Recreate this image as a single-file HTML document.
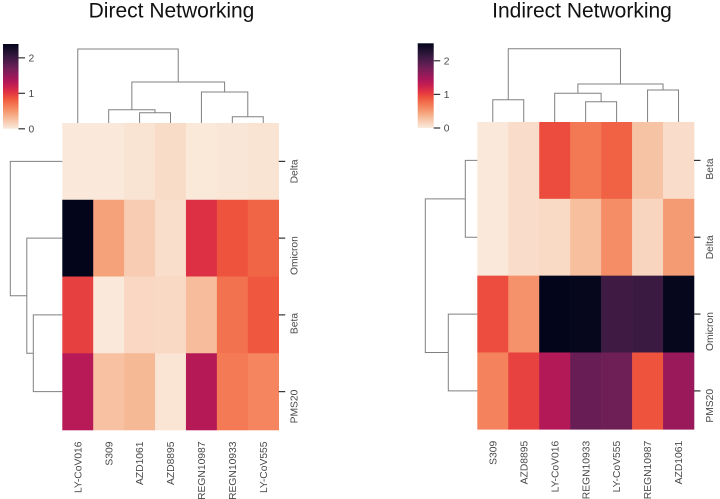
<!DOCTYPE html>
<html>
<head>
<meta charset="utf-8">
<title>Direct and Indirect Networking heatmaps</title>
<style>
html,body{margin:0;padding:0;background:#fff;width:720px;height:499px;overflow:hidden}
svg{display:block;font-family:"Liberation Sans",sans-serif;filter:blur(0.35px)}
.title{font-size:21px;fill:#111;text-anchor:middle}
</style>
</head>
<body>
<svg id="chart" xmlns="http://www.w3.org/2000/svg" width="720" height="499" viewBox="0 0 720 499">
  <defs id="defs"></defs>
  <text class="title" x="171.5" y="17.5">Direct Networking</text>
  <text class="title" x="582" y="17.5">Indirect Networking</text>
</svg>
<script>
// ---- Direct Networking data (display order) ----
const directCols = ['LY-CoV016','S309','AZD1061','AZD8895','REGN10987','REGN10933','LY-CoV555'];
const directRows = ['Delta','Omicron','Beta','PMS20'];
const directDelta = [0.01,0.015,0.045,0.09,0.02,0.03,0.05];
const directOmicron = [2.39,0.44,0.19,0.08,1.05,0.86,0.77];
const directBeta = [0.96,0.01,0.12,0.11,0.29,0.71,0.84];
const directPMS20 = [1.30,0.26,0.31,0.04,1.31,0.66,0.60];
const directVmax = 2.39;
const directTicks = [0,1,2];
// merges: [childA, childB, height]; ids >= leaf count refer to earlier merges
const directColLinks = [[5,6,6.3],[2,3,10.3],[1,8,13.3],[4,7,31],[9,10,41],[0,11,74]];
const directRowLinks = [[2,3,29],[1,4,35.5],[0,5,52]];

// ---- Indirect Networking data (display order) ----
const indirectCols = ['S309','AZD8895','LY-CoV016','REGN10933','LY-CoV555','REGN10987','AZD1061'];
const indirectRows = ['Beta','Delta','Omicron','PMS20'];
const indirectBeta = [0.015,0.09,0.95,0.70,0.83,0.26,0.09];
const indirectDelta = [0.015,0.09,0.11,0.29,0.58,0.14,0.50];
const indirectOmicron = [0.94,0.55,2.52,2.50,2.10,2.13,2.50];
const indirectPMS20 = [0.64,1.00,1.40,1.85,1.82,0.91,1.55];
const indirectVmax = 2.52;
const indirectTicks = [0,1,2];
const indirectColLinks = [[3,4,20.3],[0,1,22.3],[2,7,28.7],[5,6,32],[9,10,38],[8,11,73.3]];
const indirectRowLinks = [[0,1,12],[2,3,29],[4,5,52]];

const svg = document.getElementById('chart');
const defs = document.getElementById('defs');
const NS = 'http://www.w3.org/2000/svg';

// rocket_r colormap anchor colours (light to dark)
const ramp = ['#faebdd','#f8cfb6','#f6b48f','#f5946c','#f37651','#ef553d','#e13342','#c82050','#ad1759','#8e1b5a','#701f57','#521c4c','#35193e','#1c0f2c','#03051a'];
function rgb(hex){return [1,3,5].map(i=>parseInt(hex.substr(i,2),16));}
function colorFor(t){
  t = Math.max(0,Math.min(1,t))*(ramp.length-1);
  const i = Math.min(Math.floor(t),ramp.length-2), f = t-i;
  const a = rgb(ramp[i]), b = rgb(ramp[i+1]);
  return 'rgb('+a.map((v,k)=>Math.round(v+(b[k]-v)*f)).join(',')+')';
}
function make(tag,attrs,parent){
  const el = document.createElementNS(NS,tag);
  for(const k in attrs) el.setAttribute(k,attrs[k]);
  parent.appendChild(el);
  return el;
}
function slug(s){return s.toLowerCase().replace(/[^a-z0-9]+/g,'-');}

function drawPanel(cfg){
  const g = make('g',{},svg);
  
  
  const xScale = i => cfg.x0+(cfg.x1-cfg.x0)*i/cfg.cols.length;
  const yScale = i => cfg.y0+(cfg.y1-cfg.y0)*i/cfg.rows.length;
  const colCenter = i => xScale(i+0.5);
  const rowCenter = i => yScale(i+0.5);

  // heatmap cells
  cfg.values.forEach((row,r)=>{
    row.forEach((v,c)=>{
      const cell = make('rect',{x:xScale(c),y:yScale(r),width:xScale(c+1)-xScale(c)+0.3,height:yScale(r+1)-yScale(r)+0.3,fill:colorFor(v/cfg.vmax)},g);
      
      
    });
  });

  // column labels
  cfg.cols.forEach((name,c)=>{
    const x = colCenter(c)+3.6;
    const t = make('text',{x:0,y:0,transform:'translate('+x+','+(cfg.y1+11.5)+') rotate(-90)','text-anchor':'end','font-size':'10.3px',fill:'#484848'},g);
    t.textContent = name;
    
    
  });

  // row ticks and labels
  cfg.rows.forEach((name,r)=>{
    const y = rowCenter(r);
    const tick = make('line',{x1:cfg.x1,x2:cfg.x1+6.5,y1:y,y2:y,stroke:'#333','stroke-width':1.2},g);
    
    
    const t = make('text',{x:0,y:0,transform:'translate('+(cfg.x1+18.8)+','+(y-2)+') rotate(-90)','text-anchor':'end','font-size':'10.3px',fill:'#484848'},g);
    t.textContent = name;
    
    
  });

  // column dendrogram
  const colNodes = cfg.cols.map((_,i)=>({p:colCenter(i),h:0}));
  cfg.colLinks.forEach(link=>{
    const a = colNodes[link[0]], b = colNodes[link[1]], h = link[2];
    const y = d => cfg.y0-d;
    const path = make('path',{d:'M'+a.p+' '+y(a.h)+'V'+y(h)+'H'+b.p+'V'+y(b.h),fill:'none',stroke:'#808080','stroke-width':1},g);
    
    
    colNodes.push({p:(a.p+b.p)/2,h:h});
  });

  // row dendrogram
  const rowNodes = cfg.rows.map((_,i)=>({p:rowCenter(i),h:0}));
  cfg.rowLinks.forEach(link=>{
    const a = rowNodes[link[0]], b = rowNodes[link[1]], h = link[2];
    const x = d => cfg.x0-d;
    const path = make('path',{d:'M'+x(a.h)+' '+a.p+'H'+x(h)+'V'+b.p+'H'+x(b.h),fill:'none',stroke:'#808080','stroke-width':1},g);
    
    
    rowNodes.push({p:(a.p+b.p)/2,h:h});
  });

  // colorbar
  const grad = make('linearGradient',{id:cfg.id+'-grad',x1:0,y1:1,x2:0,y2:0},defs);
  ramp.forEach((c,i)=>{make('stop',{offset:i/(ramp.length-1),'stop-color':c},grad);});
  const bar = make('rect',{x:cfg.cbX,y:cfg.cbTop,width:cfg.cbW,height:cfg.cbBottom-cfg.cbTop,fill:'url(#'+cfg.id+'-grad)'},g);
  
  
  const cbScale = v => cfg.cbBottom-(cfg.cbBottom-cfg.cbTop)*v/cfg.vmax;
  cfg.ticks.forEach(v=>{
    const y = cbScale(v);
    const tick = make('line',{x1:cfg.cbX+cfg.cbW,x2:cfg.cbX+cfg.cbW+6.5,y1:y,y2:y,stroke:'#333','stroke-width':1.2},g);
    
    
    const t = make('text',{x:cfg.cbX+cfg.cbW+10,y:y+3.6,'font-size':'10.3px',fill:'#484848'},g);
    t.textContent = v;
    
    
  });
}

drawPanel({id:'direct',x0:62.3,x1:278.7,y0:123,y1:430,cols:directCols,rows:directRows,
  values:[directDelta,directOmicron,directBeta,directPMS20],vmax:directVmax,ticks:directTicks,
  colLinks:directColLinks,rowLinks:directRowLinks,cbX:3,cbW:15.5,cbTop:44,cbBottom:128.8});
drawPanel({id:'indirect',x0:477.3,x1:694,y0:122,y1:429.3,cols:indirectCols,rows:indirectRows,
  values:[indirectBeta,indirectDelta,indirectOmicron,indirectPMS20],vmax:indirectVmax,ticks:indirectTicks,
  colLinks:indirectColLinks,rowLinks:indirectRowLinks,cbX:417.7,cbW:16,cbTop:43.3,cbBottom:128});
</script>
</body>
</html>
